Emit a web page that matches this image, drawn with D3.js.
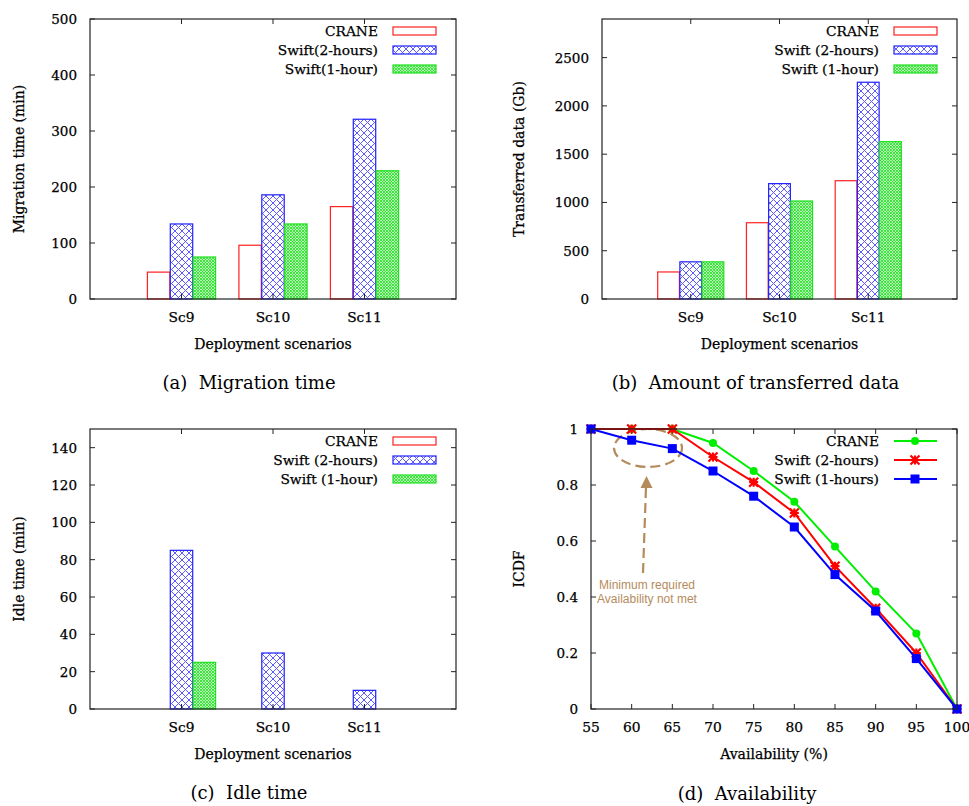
<!DOCTYPE html>
<html><head><meta charset="utf-8">
<script src="https://cdn.jsdelivr.net/npm/d3@7"></script>
<style>
body{margin:0;background:#fff;}
text{font-family:"DejaVu Serif",serif;fill:#000;}
text.lbl{stroke:#000;stroke-width:0.25;}
</style></head>
<body>
<svg id="chart" width="969" height="806"></svg>
<script>
const categories = ["Sc9","Sc10","Sc11"];
const seriesNamesA = ["CRANE","Swift(2-hours)","Swift(1-hour)"];
const seriesNamesB = ["CRANE","Swift (2-hours)","Swift (1-hour)"];
const seriesNamesD = ["CRANE","Swift (2-hours)","Swift (1-hours)"];
const migrationCrane = [48, 96, 165];
const migrationSwift2h = [134, 186, 321];
const migrationSwift1h = [75, 134, 229];
const transferCrane = [280, 790, 1225];
const transferSwift2h = [385, 1195, 2245];
const transferSwift1h = [385, 1015, 1630];
const idleCrane = [0, 0, 0];
const idleSwift2h = [85, 30, 10];
const idleSwift1h = [25, 0, 0];
const availability = [55,60,65,70,75,80,85,90,95,100];
const icdfCrane = [1,1,1,0.95,0.85,0.74,0.58,0.42,0.27,0];
const icdfSwift2h = [1,1,1,0.90,0.81,0.70,0.51,0.36,0.20,0];
const icdfSwift1h = [1,0.96,0.93,0.85,0.76,0.65,0.48,0.35,0.18,0];
const ticksA = [0,100,200,300,400,500];
const ticksB = [0,500,1000,1500,2000,2500];
const ticksC = [0,20,40,60,80,100,120,140];
const ticksDy = [0,0.2,0.4,0.6,0.8,1];
const ticksDx = [55,60,65,70,75,80,85,90,95,100];

const svg = d3.select("#chart");
const defs = svg.append("defs");
const pb = defs.append("pattern").attr("id","hatchBlue").attr("patternUnits","userSpaceOnUse")
  .attr("width",7).attr("height",7);
pb.append("rect").attr("width",7).attr("height",7).attr("fill","#fff");
pb.append("path").attr("d","M0,0L7,7M7,0L0,7M-1,6L1,8M6,-1L8,1M-1,1L1,-1M6,8L8,6").attr("stroke","#5a5aff").attr("stroke-width",1);
const pg = defs.append("pattern").attr("id","hatchGreen").attr("patternUnits","userSpaceOnUse")
  .attr("width",3).attr("height",3);
pg.append("rect").attr("width",3).attr("height",3).attr("fill","#b8f7b8");
pg.append("path").attr("d","M0,0L3,3M3,0L0,3").attr("stroke","#22e022").attr("stroke-width",0.8);

const fills = ["#fff","url(#hatchBlue)","url(#hatchGreen)"];
const strokes = ["#ff2020","#2020ff","#20e020"];
const FS = 13.8;

function frameAxes(g, x0,x1,y0,y1, y, yTicks, yFmt){
  yTicks.forEach(t=>{
    const yy=y(t);
    g.append("line").attr("x1",x0).attr("x2",x0+5).attr("y1",yy).attr("y2",yy).attr("stroke","#222");
    g.append("line").attr("x1",x1).attr("x2",x1-5).attr("y1",yy).attr("y2",yy).attr("stroke","#222");
    g.append("text").attr("class","lbl").attr("x",x0-13).attr("y",yy+5).attr("text-anchor","end").attr("font-size",13.5).text(yFmt(t));
  });
}

function barPanel(x0,x1,y0,y1,ymax,yTicks,data,names,yLabel,caption,ylabX,legendTextX){
  const g = svg.append("g");
  const x = d3.scaleLinear().domain([0,4]).range([x0,x1]);
  const y = d3.scaleLinear().domain([0,ymax]).range([y1,y0]);
  const offsets=[-0.25,0,0.25], bw=0.245;
  data.forEach((vals,si)=>{
    vals.forEach((v,ci)=>{
      if(v<=0) return;
      const cx = x(ci+1+offsets[si]);
      const w = x(bw)-x(0);
      g.append("rect").attr("x",cx-w/2).attr("y",y(v)).attr("width",w).attr("height",y(0)-y(v))
        .attr("fill",fills[si]).attr("stroke",strokes[si]).attr("stroke-width",1.2);
    });
  });
  frameAxes(g,x0,x1,y0,y1,y,yTicks,d3.format("d"));
  categories.forEach((c,i)=>{
    const xx=x(i+1);
    g.append("line").attr("x1",xx).attr("x2",xx).attr("y1",y1).attr("y2",y1-5).attr("stroke","#222");
    g.append("line").attr("x1",xx).attr("x2",xx).attr("y1",y0).attr("y2",y0+5).attr("stroke","#222");
    g.append("text").attr("class","lbl").attr("x",xx).attr("y",y1+23).attr("text-anchor","middle").attr("font-size",FS).text(c);
  });
  names.forEach((n,i)=>{
    const ly = y0+12+i*19;
    g.append("rect").attr("x",legendTextX+15).attr("y",ly-4).attr("width",43).attr("height",8)
      .attr("fill",fills[i]).attr("stroke",strokes[i]).attr("stroke-width",1.2);
    g.append("text").attr("class","lbl").attr("x",legendTextX).attr("y",ly+5).attr("text-anchor","end").attr("font-size",FS).text(n);
  });
  g.append("rect").attr("x",x0).attr("y",y0).attr("width",x1-x0).attr("height",y1-y0)
    .attr("fill","none").attr("stroke","#222").attr("stroke-width",1.2);
  g.append("text").attr("class","lbl").attr("x",(x0+x1)/2).attr("y",y1+50).attr("text-anchor","middle").attr("font-size",14).text("Deployment scenarios");
  g.append("text").attr("class","lbl").attr("transform",`translate(${ylabX},${(y0+y1)/2}) rotate(-90)`).attr("text-anchor","middle").attr("font-size",14).text(yLabel);
  g.append("text").attr("x",(x0+x1)/2 - 24).attr("y",y1+90).attr("text-anchor","middle").attr("font-size",18).style("white-space","pre").text(caption);
}

barPanel(90,456,19,299,500,ticksA,[migrationCrane,migrationSwift2h,migrationSwift1h],seriesNamesA,"Migration time (min)","(a)  Migration time",24,378);
barPanel(602,957,19,299,2900,ticksB,[transferCrane,transferSwift2h,transferSwift1h],seriesNamesB,"Transferred data (Gb)","(b)  Amount of transferred data",524,879);
barPanel(90,456,429,709,150,ticksC,[idleCrane,idleSwift2h,idleSwift1h],seriesNamesB,"Idle time (min)","(c)  Idle time",24,378);

(function(){
  const x0=591,x1=957,y0=429,y1=709;
  const g = svg.append("g");
  const x = d3.scaleLinear().domain([55,100]).range([x0,x1]);
  const y = d3.scaleLinear().domain([0,1]).range([y1,y0]);
  frameAxes(g,x0,x1,y0,y1,y,ticksDy,d=>d===0||d===1?String(d):d3.format(".1f")(d));
  ticksDx.forEach(t=>{
    const xx=x(t);
    g.append("line").attr("x1",xx).attr("x2",xx).attr("y1",y1).attr("y2",y1-5).attr("stroke","#222");
    g.append("line").attr("x1",xx).attr("x2",xx).attr("y1",y0).attr("y2",y0+5).attr("stroke","#222");
    g.append("text").attr("class","lbl").attr("x",xx).attr("y",y1+23).attr("text-anchor","middle").attr("font-size",FS).text(t);
  });
  const ac="#b58b5c";
  g.append("ellipse").attr("cx",648).attr("cy",448).attr("rx",34).attr("ry",19)
    .attr("fill","none").attr("stroke",ac).attr("stroke-width",2.2).attr("stroke-dasharray","10,5");
  g.append("line").attr("x1",643).attr("y1",573).attr("x2",646).attr("y2",487)
    .attr("stroke",ac).attr("stroke-width",2.2).attr("stroke-dasharray","10,5");
  g.append("path").attr("d","M646.5,476L640.5,488L652.5,488Z").attr("fill",ac);
  g.append("text").attr("x",647).attr("y",589).attr("text-anchor","middle").attr("font-size",12)
    .style("font-family","'Liberation Sans',Arial,sans-serif").style("fill",ac).text("Minimum required");
  g.append("text").attr("x",647).attr("y",603).attr("text-anchor","middle").attr("font-size",12)
    .style("font-family","'Liberation Sans',Arial,sans-serif").style("fill",ac).text("Availability not met");

  const series=[
    {vals:icdfCrane,color:"#00ee00",marker:"circle"},
    {vals:icdfSwift2h,color:"#ff0000",marker:"star"},
    {vals:icdfSwift1h,color:"#0000ff",marker:"square"}];
  const line=d3.line().x(d=>x(d[0])).y(d=>y(d[1]));
  function drawMarker(gg,type,cx,cy,color){
    if(type==="circle"){
      gg.append("circle").attr("cx",cx).attr("cy",cy).attr("r",4).attr("fill",color);
    } else if(type==="square"){
      gg.append("rect").attr("x",cx-4.5).attr("y",cy-4.5).attr("width",9).attr("height",9).attr("fill",color);
    } else {
      const s=4.5;
      gg.append("path").attr("d",`M${cx-s},${cy}L${cx+s},${cy}M${cx},${cy-s}L${cx},${cy+s}M${cx-s},${cy-s}L${cx+s},${cy+s}M${cx-s},${cy+s}L${cx+s},${cy-s}`)
        .attr("stroke",color).attr("stroke-width",2.2);
    }
  }
  series.forEach(s=>{
    const pts=availability.map((a,i)=>[a,s.vals[i]]);
    g.append("path").attr("d",line(pts)).attr("fill","none").attr("stroke",s.color).attr("stroke-width",2);
    pts.forEach(p=>drawMarker(g,s.marker,x(p[0]),y(p[1]),s.color));
  });
  seriesNamesD.forEach((n,i)=>{
    const ly=y0+12+i*19;
    g.append("line").attr("x1",894).attr("x2",937).attr("y1",ly).attr("y2",ly).attr("stroke",series[i].color).attr("stroke-width",2);
    drawMarker(g,series[i].marker,915,ly,series[i].color);
    g.append("text").attr("class","lbl").attr("x",879).attr("y",ly+5).attr("text-anchor","end").attr("font-size",FS).text(n);
  });
  g.append("rect").attr("x",x0).attr("y",y0).attr("width",x1-x0).attr("height",y1-y0)
    .attr("fill","none").attr("stroke","#222").attr("stroke-width",1.2);
  g.append("text").attr("class","lbl").attr("x",(x0+x1)/2).attr("y",y1+50).attr("text-anchor","middle").attr("font-size",14).text("Availability (%)");
  g.append("text").attr("class","lbl").attr("transform",`translate(524,${(y0+y1)/2}) rotate(-90)`).attr("text-anchor","middle").attr("font-size",14).text("ICDF");
  g.append("text").attr("x",747).attr("y",800).attr("text-anchor","middle").attr("font-size",18).style("white-space","pre").text("(d)  Availability");
})();
</script>
</body></html>
